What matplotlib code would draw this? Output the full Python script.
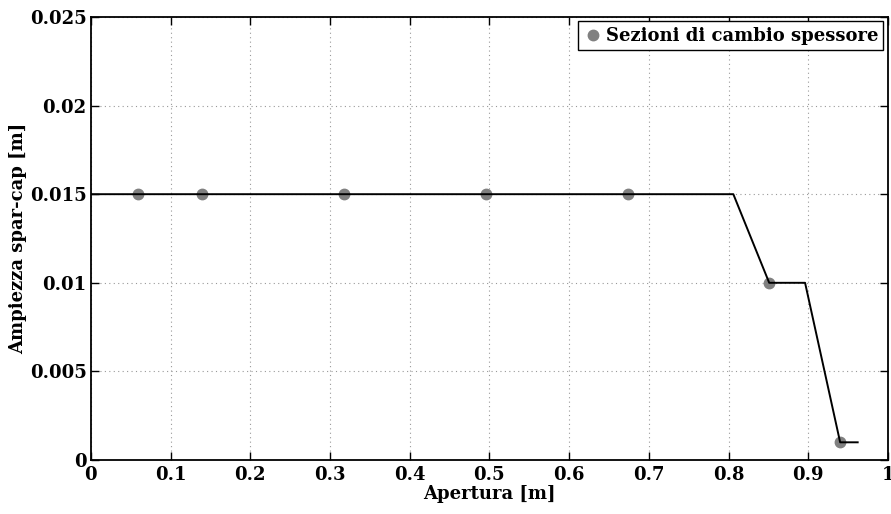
import matplotlib
matplotlib.use("Agg")
import matplotlib.pyplot as plt

# spar-cap width along the span
span = [0.0, 0.806, 0.851, 0.896, 0.940, 0.962]
width = [0.015, 0.015, 0.010, 0.010, 0.001, 0.001]

# sections where thickness changes
sec_x = [0.059, 0.139, 0.318, 0.496, 0.674, 0.851, 0.940]
sec_y = [0.015, 0.015, 0.015, 0.015, 0.015, 0.010, 0.001]

xticks = [0, 0.1, 0.2, 0.3, 0.4, 0.5, 0.6, 0.7, 0.8, 0.9, 1]
xticklabels = ['0', '0.1', '0.2', '0.3', '0.4', '0.5', '0.6', '0.7', '0.8', '0.9', '1']
yticks = [0, 0.005, 0.01, 0.015, 0.02, 0.025]
yticklabels = ['0', '0.005', '0.01', '0.015', '0.02', '0.025']

plt.rcParams['font.family'] = ['DejaVu Serif']
plt.rcParams['font.weight'] = 'bold'

fig = plt.figure(figsize=(8.91, 5.14), dpi=100)
ax = fig.add_axes([0.102, 0.105, 0.8946, 0.862])

ax.plot(span, width, color='black', lw=1.4, zorder=3)
ax.plot(sec_x, sec_y, 'o', color='#808080', markersize=7.5, mec='#808080',
        label='Sezioni di cambio spessore', zorder=2)

ax.set_xlim(0, 1)
ax.set_ylim(0, 0.025)
ax.set_xticks(xticks)
ax.set_xticklabels(xticklabels)
ax.set_yticks(yticks)
ax.set_yticklabels(yticklabels)
ax.tick_params(direction='in', length=6, width=1, top=True, right=True,
               labelsize=13)
ax.tick_params(axis='x', pad=4)
ax.tick_params(axis='y', pad=3)
for s in ax.spines.values():
    s.set_linewidth(1.3)
ax.grid(True, linestyle=(0, (1, 3)), color='#999999', lw=0.8)

ax.set_xlabel('Apertura [m]', fontsize=13, fontweight='bold', labelpad=1)
ax.set_ylabel('Ampiezza spar-cap [m]', fontsize=13, fontweight='bold', labelpad=2)

leg = ax.legend(loc='upper right', fontsize=13, fancybox=False, framealpha=1,
                edgecolor='black', borderaxespad=0.25, handletextpad=0.2,
                handlelength=1.0, borderpad=0.3)
leg.get_frame().set_linewidth(1.0)

fig.savefig('out.png', dpi=100)
